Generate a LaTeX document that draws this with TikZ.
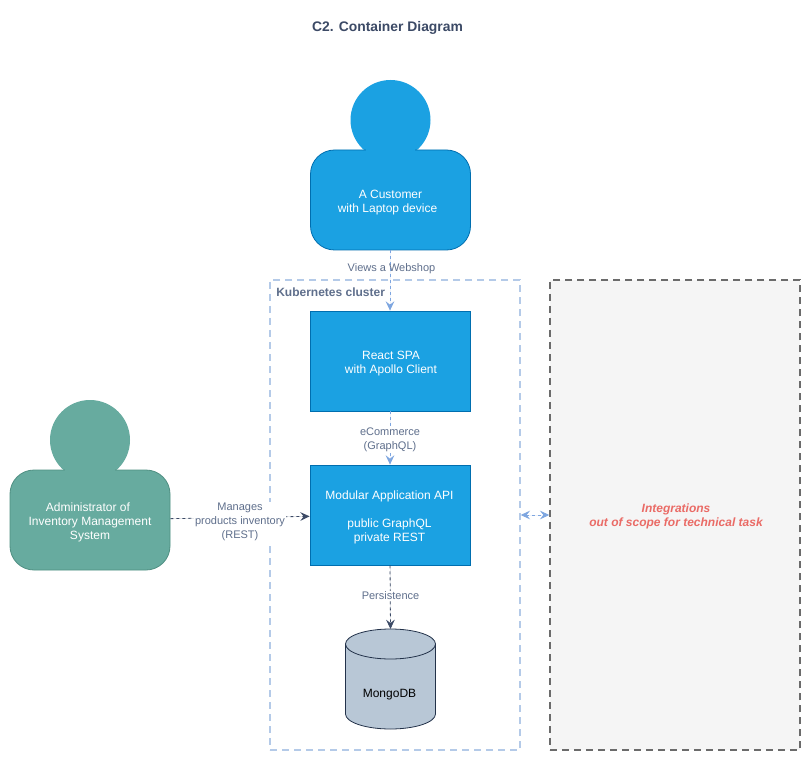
\documentclass[tikz,border=0pt]{standalone}
\usepackage{fontspec}
\setmainfont{Liberation Sans}
\usetikzlibrary{arrows.meta}
\definecolor{bluefill}{HTML}{1BA1E2}
\definecolor{blueline}{HTML}{006EAF}
\definecolor{greenfill}{HTML}{67AB9F}
\definecolor{greenline}{HTML}{4F8F82}
\definecolor{navy}{HTML}{3C4A66}
\definecolor{labelc}{HTML}{5F6F8C}
\definecolor{lightedge}{HTML}{7EA6E0}
\definecolor{boundary}{HTML}{B4CAE8}
\definecolor{dbfill}{HTML}{B8C7D6}
\definecolor{dbline}{HTML}{23324A}
\definecolor{redtxt}{HTML}{EA6B66}
\tikzset{
  x=0.75pt,y=-0.75pt,
  txt/.style={font=\fontsize{8.25}{10.4}\selectfont,align=center,inner sep=0pt},
  boxtext/.style={txt,text=white,font=\fontsize{9}{10.5}\selectfont},
  personbody/.style={rounded corners=18pt,minimum width=120pt,minimum height=75pt,inner sep=0pt,line width=0.6pt},
  container/.style={draw=blueline,fill=bluefill,line width=0.6pt,minimum width=120pt,minimum height=75pt,inner sep=0pt},
  rel/.style={line width=0.6pt,dash pattern=on 2.25pt off 2.25pt,-{Stealth[length=7pt,width=6.5pt,inset=2.6pt]}},
  edgelabel/.style={txt,text=labelc,fill=white,inner xsep=1pt,inner ysep=1pt},
  zone/.style={minimum width=187.5pt,minimum height=352.5pt,inner sep=0pt,line width=1.1pt,dash pattern=on 5.25pt off 3.75pt}
}
\begin{document}
\begin{tikzpicture}
\useasboundingbox (0,0) rectangle (812,762);
\fill[white] (0,0) rectangle (812,762);

\node[txt,text=navy,font=\bfseries\fontsize{10.4}{12}\selectfont] (title) at (387.5,27.5) {C2. Container Diagram};

% boundaries
\node[zone,draw=boundary] (k8s) at (395,515) {};
\node[zone,draw=black!58,fill=black!4] (ext) at (675,515) {};
\node[txt,text=labelc,font=\bfseries\fontsize{9}{10.5}\selectfont,anchor=west] (k8slabel) at (276,292) {Kubernetes cluster};
\node[txt,text=redtxt,font=\bfseries\itshape\fontsize{9}{10.5}\selectfont] (extlabel) at (676,516) {Integrations\\out of scope for technical task};

% customer
\node[circle,fill=bluefill,minimum size=60pt,inner sep=0pt] (custhead) at (390.5,120) {};
\node[personbody,draw=blueline,fill=bluefill] (cust) at (390.5,200) {};
\fill[bluefill] (366,148) rectangle (415,153);
\node[boxtext] (custtext) at (387.5,202.5) {\hspace*{4.5pt}A Customer\\with Laptop device};

% admin
\node[circle,fill=greenfill,minimum size=60pt,inner sep=0pt] (admhead) at (90,440) {};
\node[personbody,draw=greenline,fill=greenfill] (adm) at (90,520) {};
\fill[greenfill] (65,468) rectangle (115,473);
\node[boxtext] (admtext) at (90,522) {Administrator of\hspace*{3pt}\\Inventory Management\\System};

% containers
\node[container] (spa) at (390,361) {};
\node[boxtext] (spatext) at (391,363.5) {React SPA\\with Apollo Client};
\node[container] (api) at (390,515) {};
\node[boxtext] (apitext) at (389.5,517) {Modular Application API\\[10.5pt]public GraphQL\\private REST};

% database
\coordinate (dbtop) at (390.5,629);
\filldraw[draw=dbline,fill=dbfill,line width=0.6pt]
  (345.5,644) arc[start angle=180,end angle=0,x radius=33.75pt,y radius=11.25pt]
  -- (435.5,714) arc[start angle=0,end angle=-180,x radius=33.75pt,y radius=11.25pt] -- cycle;
\draw[draw=dbline,line width=0.6pt] (345.5,644) arc[start angle=180,end angle=360,x radius=33.75pt,y radius=11.25pt];
\node[txt,text=black,font=\fontsize{9}{10.5}\selectfont] (dbtext) at (389.5,694.5) {MongoDB};

% connectors
\draw[rel,draw=lightedge,fill=lightedge] (cust.south -| spa.north) -- (spa.north);
\draw[rel,draw=lightedge,fill=lightedge] (spa) -- (api);
\draw[rel,draw=navy,fill=navy] (adm) -- (api);
\draw[rel,draw=navy,fill=navy] (api.south) -- (dbtop);
\draw[line width=0.6pt,draw=lightedge,fill=lightedge,dash pattern=on 2.25pt off 2.25pt,{Stealth[length=7pt,width=6.5pt,inset=2.6pt]}-{Stealth[length=7pt,width=6.5pt,inset=2.6pt]}] (k8s.east) -- (ext.west);

% labels
\node[edgelabel,fill=none] (l1) at (391.5,268.5) {Views a Webshop};
\node[edgelabel] (l2) at (390,439.5) {eCommerce\\(GraphQL)};
\node[edgelabel] (l3) at (240,522) {Manages\\products inventory\\(REST)};
\node[edgelabel] (l4) at (390.5,596) {Persistence};
\end{tikzpicture}
\end{document}
